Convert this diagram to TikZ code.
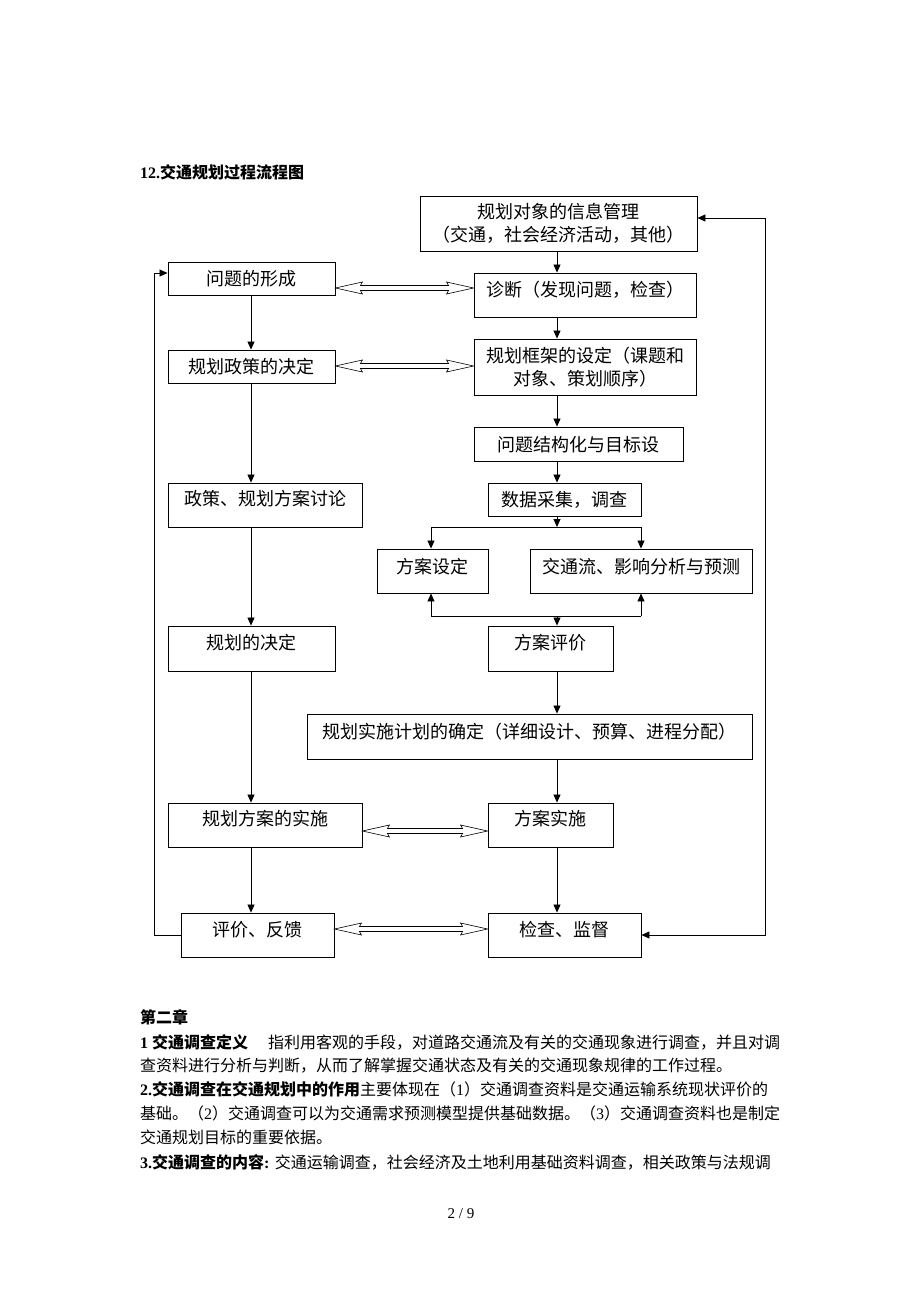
\documentclass[tikz,border=0pt]{standalone}
\usepackage{fontspec}
\setmainfont{Liberation Serif}
\newfontfamily\cjk{Noto Sans CJK SC}
\usetikzlibrary{arrows.meta,calc}
\tikzset{
  box/.style={draw=black, line width=0.9pt, inner sep=0pt, align=center,
    font=\cjk\fontsize{18pt}{23pt}\selectfont},
  tx/.style={text height=20pt, text depth=#1},
  arr/.style={-{Triangle[length=8pt,width=7pt]}, line width=0.8pt},
  arrb/.style={{Triangle[length=8pt,width=7pt]}-{Triangle[length=8pt,width=7pt]}, line width=0.8pt},
  ln/.style={line width=0.8pt},
  hollow/.style={draw=black, line width=0.6pt, fill=white, line join=miter},
  body/.style={anchor=base west, inner sep=0pt, font=\fontsize{16pt}{19pt}\selectfont},
}
\newcommand\dblarr[2]{%
  \draw[hollow] let \p1=(#1), \p2=(#2) in
    (\p1) -- (\x1+27pt,\y1+6pt) -- (\x1+25pt,\y1+2.5pt) -- (\x2-25pt,\y1+2.5pt)
    -- (\x2-27pt,\y1+6pt) -- (\x2,\y1) -- (\x2-27pt,\y1-6pt) -- (\x2-25pt,\y1-2.5pt)
    -- (\x1+25pt,\y1-2.5pt) -- (\x1+27pt,\y1-6pt) -- cycle;}
\begin{document}
\begin{tikzpicture}[x=1pt,y=-1pt]
\useasboundingbox (0,0) rectangle (920,1302);
\fill[white] (0,0) rectangle (920,1302);

% title
\node[body] (title) at (140,178) {\textbf{12.}{\cjk\bfseries 交通规划过程流程图}};

% boxes
\node[box, minimum width=277pt, minimum height=55pt] (info) at (558.5,223.5) {规划对象的信息管理\\（交通，社会经济活动，其他）};
\node[box, tx=5.4pt, minimum width=167pt, minimum height=33pt] (wt) at (251.5,278.5) {问题的形成};
\node[box, tx=17.4pt, minimum width=222pt, minimum height=44pt] (zd) at (585,295) {诊断（发现问题，检查）};
\node[box, tx=5.4pt, minimum width=167pt, minimum height=33pt] (zc) at (251.5,366.5) {规划政策的决定};
\node[box, minimum width=222pt, minimum height=56pt] (kj) at (585,367) {规划框架的设定（课题和\\对象、策划顺序）};
\node[box, tx=4.4pt, minimum width=209pt, minimum height=34pt] (jg) at (578.5,444) {问题结构化与目标设};
\node[box, tx=5.4pt, minimum width=153pt, minimum height=33pt] (sj) at (564.5,499.5) {数据采集，调查};
\node[box, tx=18.4pt, minimum width=194pt, minimum height=44pt] (tl) at (265,505) {政策、规划方案讨论};
\node[box, tx=14.4pt, minimum width=111pt, minimum height=44pt] (fa) at (432.5,571) {方案设定};
\node[box, tx=14.4pt, minimum width=222pt, minimum height=44pt] (jt) at (641,571) {交通流、影响分析与预测};
\node[box, tx=17.4pt, minimum width=167pt, minimum height=45pt] (jd) at (251.5,648.5) {规划的决定};
\node[box, tx=17.4pt, minimum width=125pt, minimum height=45pt] (pj) at (550.5,648.5) {方案评价};
\node[box, tx=15.4pt, minimum width=445pt, minimum height=45pt] (jh) at (529.5,736.5) {规划实施计划的确定（详细设计、预算、进程分配）};
\node[box, tx=18.4pt, minimum width=194pt, minimum height=44pt] (ss) at (265,825) {规划方案的实施};
\node[box, tx=18.4pt, minimum width=125pt, minimum height=44pt] (fs) at (550.5,825) {方案实施};
\node[box, tx=16.4pt, minimum width=153pt, minimum height=44pt] (fk) at (257.5,935) {评价、反馈};
\node[box, tx=16.4pt, minimum width=153pt, minimum height=44pt] (jc) at (564.5,935) {检查、监督};

% helper coordinates
\coordinate (mx) at (557,0);
\coordinate (lx) at (251,0);
\coordinate (lft) at (154,0);
\coordinate (rgt) at (765,0);
\coordinate (b1) at (431,527);
\coordinate (b2) at (641,527);
\coordinate (c1) at (431,616);
\coordinate (c2) at (641,616);

% right column
\draw[arr] (info.south -| mx) -- (zd.north -| mx);
\draw[arr] (zd.south -| mx) -- (kj.north -| mx);
\draw[arr] (kj.south -| mx) -- (jg.north -| mx);
\draw[arr] (jg.south -| mx) -- (sj.north -| mx);
\draw[arr] (sj.south -| mx) -- (mx |- b1);
\draw[ln] (b1) -- (b2);
\draw[arr] (b1) -- (fa.north -| b1);
\draw[arr] (b2) -- (jt.north -| b2);
\draw[ln] (c1) -- (c2);
\draw[arr] (c1) -- (fa.south -| c1);
\draw[arr] (c2) -- (jt.south -| c2);
\draw[arr] (mx |- c1) -- (pj.north -| mx);
\draw[arr] (pj.south -| mx) -- (jh.north -| mx);
\draw[arr] (jh.south -| mx) -- (fs.north -| mx);
\draw[arr] (fs.south -| mx) -- (jc.north -| mx);

% left column
\draw[arr] (wt.south -| lx) -- (zc.north -| lx);
\draw[arr] (zc.south -| lx) -- (tl.north -| lx);
\draw[arr] (tl.south -| lx) -- (jd.north -| lx);
\draw[arr] (jd.south -| lx) -- (ss.north -| lx);
\draw[arr] (ss.south -| lx) -- (fk.north -| lx);

% feedback loops
\draw[arr] (fk.west) -- (fk.west -| lft) |- (wt.west |- 0,273);
\draw[arrb] (jc.east) -- (jc.east -| rgt) |- (info.east |- 0,218);

% hollow double arrows
\dblarr{wt.east |- 0,288}{zd.west |- 0,288}
\dblarr{zc.east |- 0,366}{kj.west |- 0,366}
\dblarr{ss.east |- 0,831}{fs.west |- 0,831}
\dblarr{fk.east |- 0,929}{jc.west |- 0,929}

% text below
\node[body] (h2) at (140,1023) {{\cjk\bfseries 第二章}};
\node[body] (p1) at (140,1048) {\textbf{1 }{\cjk\bfseries 交通调查定义}\hspace{20pt}{\cjk 指利用客观的手段，对道路交通流及有关的交通现象进行调查，并且对调}};
\node[body] (p2) at (140,1071) {{\cjk 查资料进行分析与判断，从而了解掌握交通状态及有关的交通现象规律的工作过程。}};
\node[body] (p3) at (140,1095) {\textbf{2.}{\cjk\bfseries 交通调查在交通规划中的作用}{\cjk 主要体现在（}1{\cjk ）交通调查资料是交通运输系统现状评价的}};
\node[body] (p4) at (140,1119) {{\cjk 基础。（}2{\cjk ）交通调查可以为交通需求预测模型提供基础数据。（}3{\cjk ）交通调查资料也是制定}};
\node[body] (p5) at (140,1143) {{\cjk 交通规划目标的重要依据。}};
\node[body] (p6) at (140,1168) {\textbf{3.}{\cjk\bfseries 交通调查的内容}\textbf{:} {\cjk 交通运输调查，社会经济及土地利用基础资料调查，相关政策与法规调}};

\node[font=\fontsize{15pt}{18pt}\selectfont, inner sep=0pt] (pg) at (461,1214) {2 / 9};
\end{tikzpicture}
\end{document}
